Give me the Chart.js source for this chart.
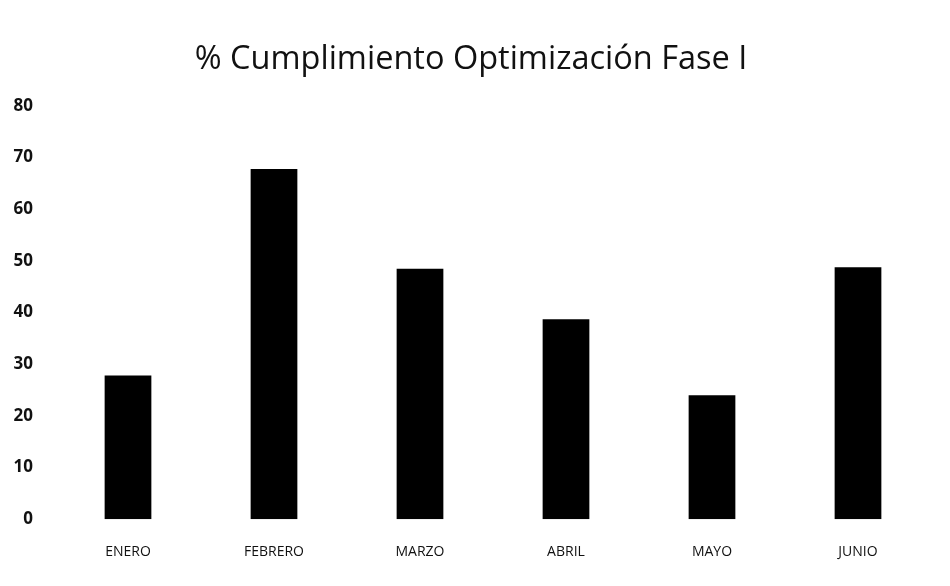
<!DOCTYPE html>
<html>
<head>
<meta charset="utf-8">
<script src="https://cdn.jsdelivr.net/npm/chart.js@4/dist/chart.umd.min.js"></script>
<style>
  html, body { margin: 0; padding: 0; background: #ffffff; }
  #wrap { width: 950px; height: 586px; }
</style>
</head>
<body>
<div id="wrap"><canvas id="c" width="950" height="586"></canvas></div>
<script>
const categories = ["ENERO", "FEBRERO", "MARZO", "ABRIL", "MAYO", "JUNIO"];
const cumplimiento = [27.8, 67.8, 48.5, 38.7, 24.0, 48.8];
const yTicks = [0, 10, 20, 30, 40, 50, 60, 70, 80];
const chartTitle = "% Cumplimiento Optimización Fase I";

new Chart(document.getElementById("c"), {
  type: "bar",
  data: {
    labels: categories,
    datasets: [{
      label: chartTitle,
      data: cumplimiento,
      backgroundColor: "#000000",
      borderWidth: 0,
      barPercentage: 0.64,
      categoryPercentage: 0.5
    }]
  },
  options: {
    responsive: false,
    animation: false,
    layout: { padding: { left: 11, right: 19, top: 0, bottom: 2 } },
    plugins: {
      legend: { display: false },
      tooltip: { enabled: false },
      title: {
        display: true,
        text: chartTitle,
        color: "#111111",
        font: { family: "Open Sans", size: 32.5, weight: "normal" },
        padding: { top: 40, bottom: 27 }
      }
    },
    scales: {
      x: {
        grid: { display: false, drawTicks: false },
        border: { display: false },
        ticks: {
          color: "#111111",
          font: { family: "Open Sans", size: 14 },
          padding: 24,
          maxRotation: 0
        }
      },
      y: {
        min: 0,
        max: 80,
        afterBuildTicks: (axis) => { axis.ticks = yTicks.map(v => ({ value: v })); },
        afterFit: (axis) => { axis.width = 44; },
        grid: { display: false, drawTicks: false },
        border: { display: false },
        ticks: {
          color: "#111111",
          font: { family: "Open Sans", size: 17, weight: "bold" },
          padding: 22
        }
      }
    }
  }
});
</script>
</body>
</html>
